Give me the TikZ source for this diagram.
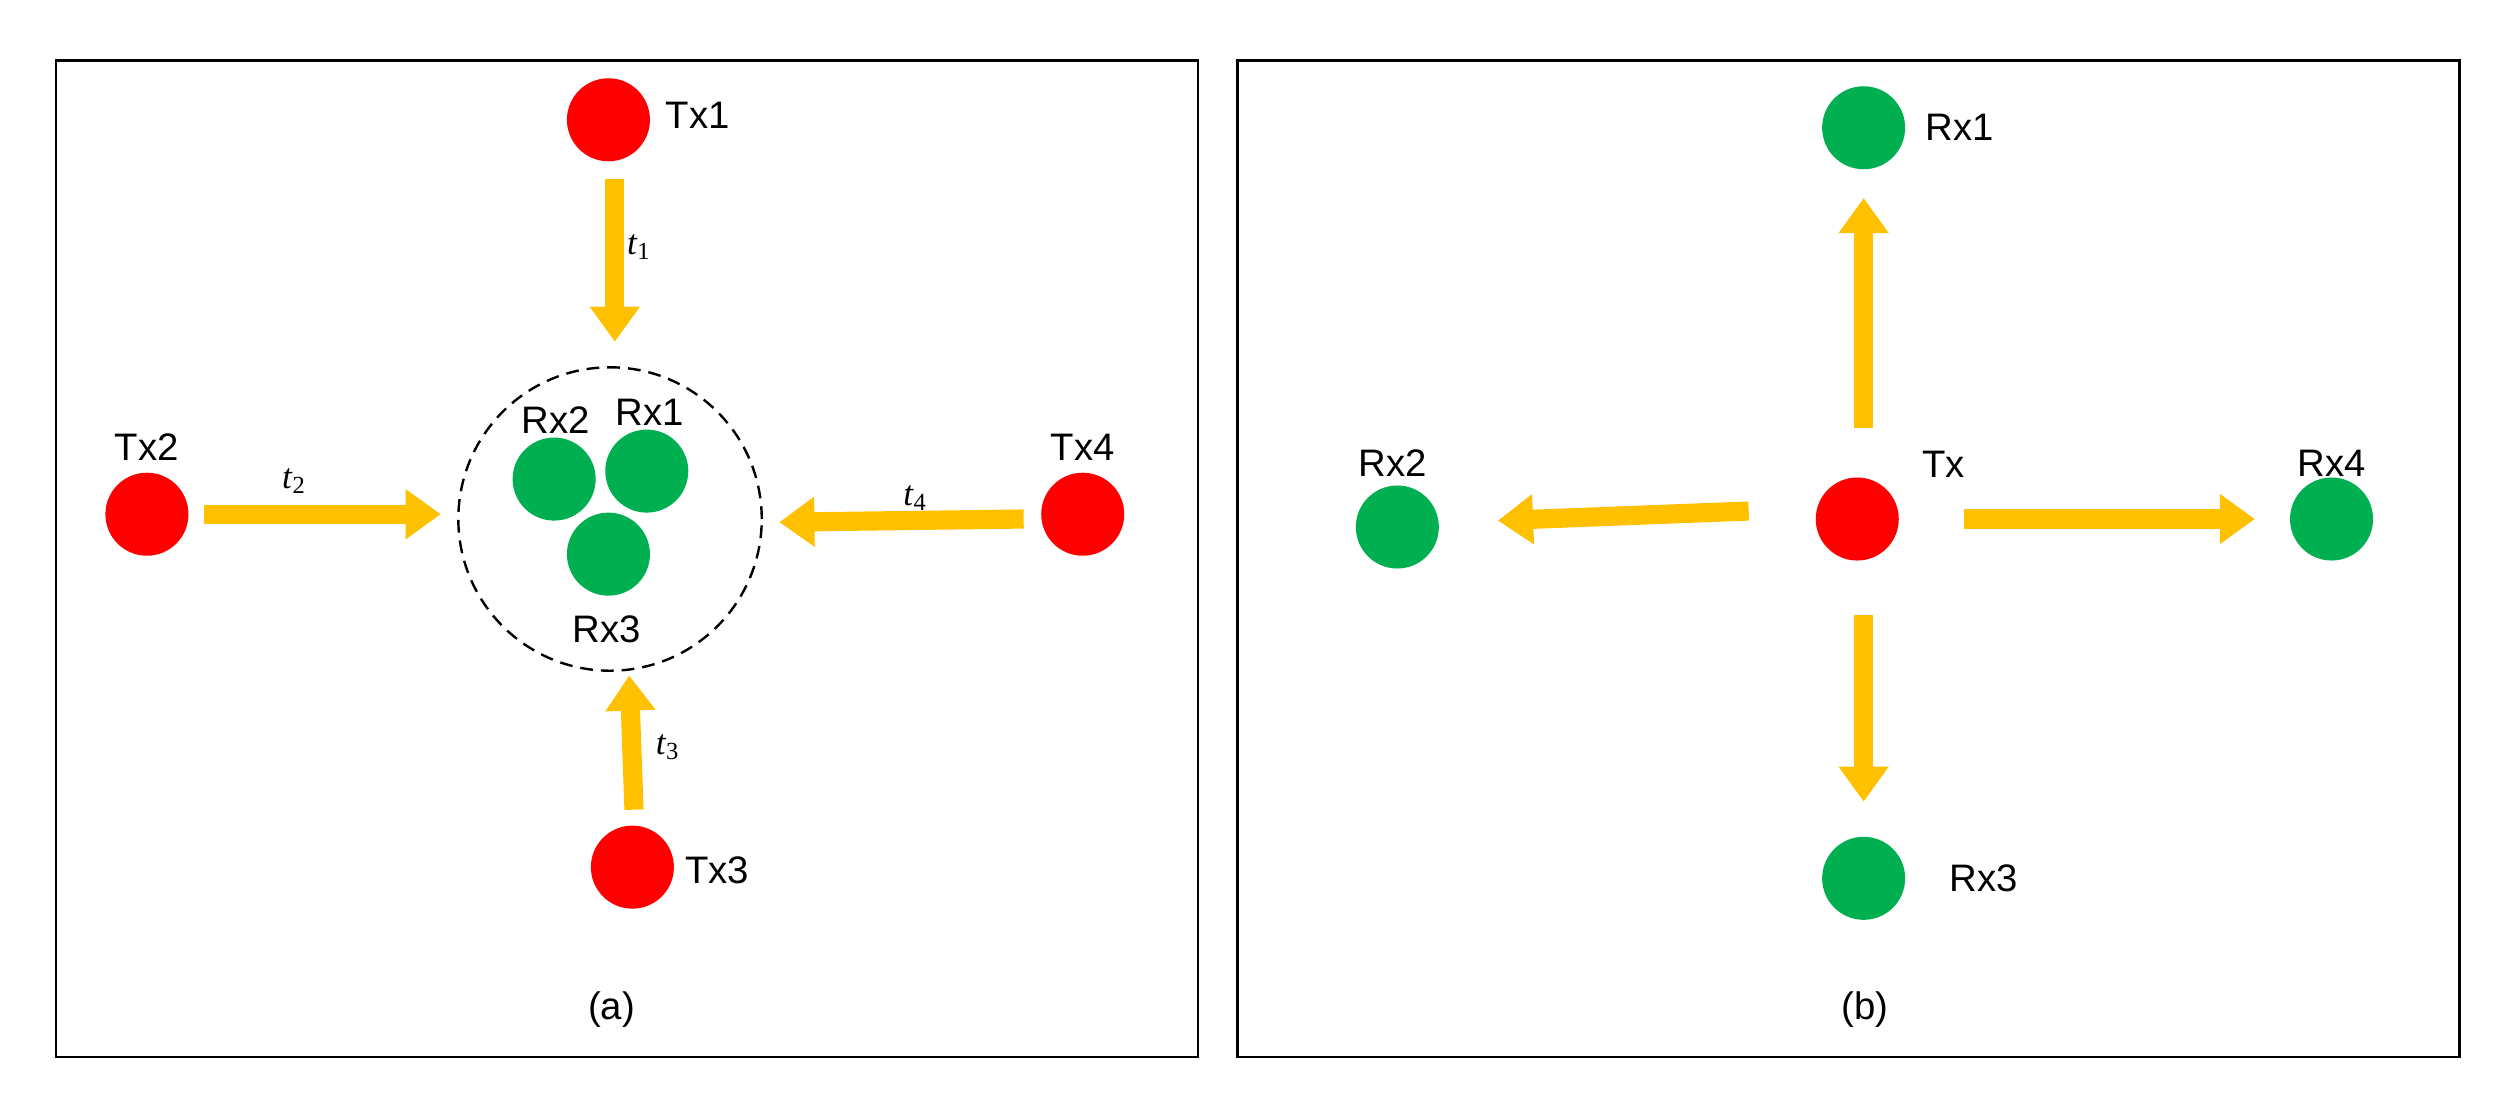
\documentclass[tikz,border=0pt]{standalone}
\usepackage{fontspec}
\setmainfont{Liberation Sans}
\newfontfamily\tfont{Liberation Serif}
\usetikzlibrary{arrows.meta}
\definecolor{ylw}{HTML}{FFC000}
\definecolor{grn}{HTML}{00B050}
\begin{document}
\begin{tikzpicture}[x=1pt,y=-1pt,
  tx/.style={circle,fill=red,minimum size=52pt,inner sep=0},
  rx/.style={circle,fill=grn,minimum size=52pt,inner sep=0},
  lbl/.style={font=\fontsize{24}{28}\selectfont},
  tl/.style={font=\fontsize{22}{26}\selectfont\tfont},
  arr/.style={draw=ylw,line width=12pt,-{Triangle[width=30pt,length=22pt]},shorten >=0pt}]
\useasboundingbox (0,0) rectangle (1568,698);
\draw[line width=1.5pt] (35,38) rectangle (750,662);
\draw[line width=1.5pt] (775,38) rectangle (1540,662);
% (a)
\node[tx] (tx1) at (381,75) {};
\node[lbl] (ltx1) at (437,72) {Tx1};
\node[tx] (tx2) at (92,322) {};
\node[lbl] (ltx2) at (92,280) {Tx2};
\node[tx] (tx3) at (396,543) {};
\node[lbl] (ltx3) at (449,545) {Tx3};
\node[tx] (tx4) at (678,322) {};
\node[lbl] (ltx4) at (678,280) {Tx4};
\node[circle,draw,line width=1.5pt,dash pattern=on 8pt off 5pt,minimum size=190pt] (zone) at (382,325) {};
\node[rx] (rx2) at (347,300) {};
\node[rx] (rx1) at (405,295) {};
\node[rx] (rx3) at (381,347) {};
\node[lbl] at (348,263) {Rx2};
\node[lbl] at (407,258) {Rx1};
\node[lbl] at (380,394) {Rx3};
\coordinate (a1s) at (385,112); \coordinate (a1e) at (385,214);
\coordinate (a2s) at (128,322); \coordinate (a2e) at (276,322);
\coordinate (a3s) at (397,507); \coordinate (a3e) at (394,423);
\coordinate (a4s) at (641,325); \coordinate (a4e) at (488,327);
\draw[arr] (a1s) -- (a1e);
\draw[arr] (a2s) -- (a2e);
\draw[arr] (a3s) -- (a3e);
\draw[arr] (a4s) -- (a4e);
\node[tl] at (400,155) {\textit{t}\textsubscript{1}};
\node[tl] at (184,301) {\textit{t}\textsubscript{2}};
\node[tl] at (418,468) {\textit{t}\textsubscript{3}};
\node[tl] at (573,312) {\textit{t}\textsubscript{4}};
\node[lbl] at (383,632) {(a)};
% (b)
\node[tx] (tx) at (1163,325) {};
\node[lbl] at (1217,291) {Tx};
\node[rx] (r1) at (1167,80) {};
\node[lbl] at (1227,80) {Rx1};
\node[rx] (r2) at (875,330) {};
\node[lbl] at (872,290) {Rx2};
\node[rx] (r3) at (1167,550) {};
\node[lbl] at (1242,550) {Rx3};
\node[rx] (r4) at (1460,325) {};
\node[lbl] at (1460,290) {Rx4};
\coordinate (b1s) at (1167,268); \coordinate (b1e) at (1167,124);
\coordinate (b2s) at (1095,320); \coordinate (b2e) at (938,326);
\coordinate (b3s) at (1167,385); \coordinate (b3e) at (1167,502);
\coordinate (b4s) at (1230,325); \coordinate (b4e) at (1412,325);
\draw[arr] (b1s) -- (b1e);
\draw[arr] (b2s) -- (b2e);
\draw[arr] (b3s) -- (b3e);
\draw[arr] (b4s) -- (b4e);
\node[lbl] at (1168,632) {(b)};
\end{tikzpicture}
\end{document}
